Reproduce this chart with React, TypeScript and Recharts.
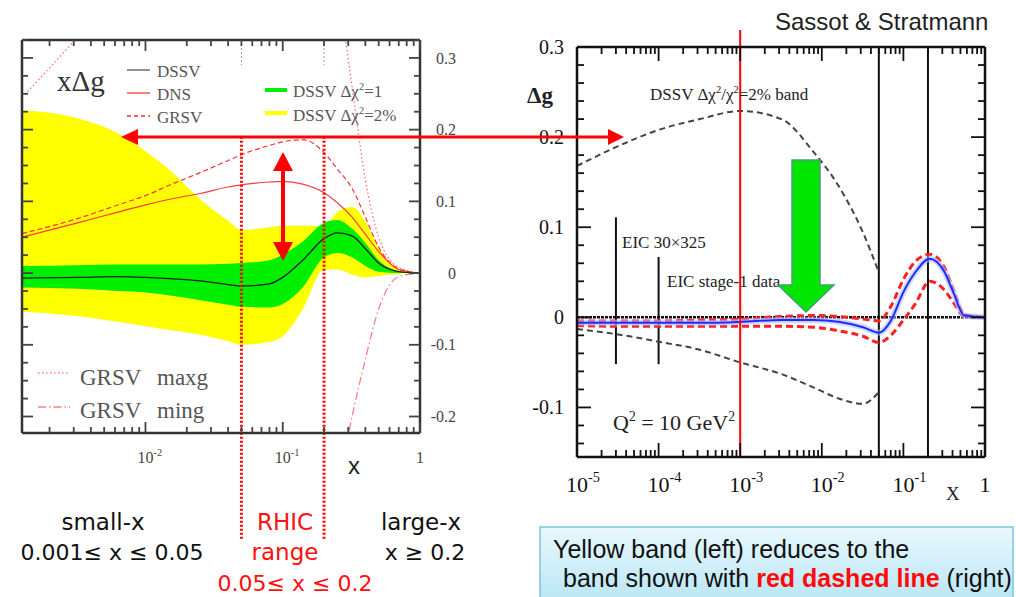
import React from 'react';
import { ComposedChart, Area, Line, XAxis, YAxis, ReferenceLine } from 'recharts';

const SERIF = '"Liberation Serif", "DejaVu Serif", serif';
const SANS = '"Liberation Sans", Arial, sans-serif';
const COMIC = '"Comic Sans MS", "DejaVu Sans", sans-serif';

// ---- left panel: x*Delta g (DSSV, DNS, GRSV) ----
const leftX = [0.00126, 0.0032, 0.0063, 0.01, 0.016, 0.025, 0.04, 0.05, 0.08, 0.1, 0.14, 0.2, 0.25, 0.32, 0.4, 0.5, 0.7, 1];
const yellowHi = [0.227, 0.216, 0.195, 0.17, 0.139, 0.103, 0.073, 0.06, 0.064, 0.066, 0.066, 0.065, 0.085, 0.092, 0.072, 0.035, 0.006, 0];
const yellowLo = [-0.054, -0.06, -0.068, -0.074, -0.08, -0.086, -0.095, -0.1, -0.096, -0.088, -0.05, 0.005, 0.005, -0.002, -0.006, -0.004, -0.001, 0];
const greenHi = [0.01, 0.011, 0.012, 0.012, 0.012, 0.012, 0.013, 0.014, 0.018, 0.026, 0.044, 0.07, 0.074, 0.062, 0.042, 0.018, 0.003, 0];
const greenLo = [-0.02, -0.022, -0.025, -0.027, -0.032, -0.038, -0.044, -0.047, -0.048, -0.043, -0.02, 0.022, 0.028, 0.022, 0.01, 0.002, 0, 0];
const dssv = [-0.007, -0.006, -0.005, -0.006, -0.008, -0.011, -0.016, -0.018, -0.015, -0.006, 0.018, 0.048, 0.056, 0.052, 0.034, 0.014, 0.002, 0];
const dns = [0.05, 0.07, 0.085, 0.095, 0.104, 0.111, 0.12, 0.123, 0.127, 0.128, 0.124, 0.112, 0.098, 0.078, 0.054, 0.03, 0.005, 0];
const grsv = [0.055, 0.076, 0.095, 0.108, 0.125, 0.14, 0.157, 0.165, 0.178, 0.183, 0.186, 0.168, 0.145, 0.118, 0.078, 0.036, 0.006, 0];
const grsvMaxg = [0.245, 0.33, 0.4, 0.44, 0.48, 0.5, 0.52, 0.53, 0.54, 0.54, 0.53, 0.5, 0.4, 0.26, 0.13, 0.05, 0.008, 0];
const grsvMing = [-0.4, -0.42, -0.44, -0.45, -0.46, -0.47, -0.48, -0.48, -0.48, -0.46, -0.43, -0.38, -0.3, -0.2, -0.12, -0.05, -0.005, 0];

// ---- right panel: Delta g, EIC projection ----
const rightX = [1e-5, 3.2e-5, 1e-4, 3.2e-4, 1e-3, 3.2e-3, 0.008, 0.016, 0.032, 0.05, 0.07, 0.1, 0.14, 0.21, 0.32, 0.4, 0.56, 1];
const bandHi = [0.168, 0.19, 0.208, 0.22, 0.229, 0.22, 0.183, 0.146, 0.094, 0.05, null, null, null, null, null, null, null, null];
const bandLo = [-0.013, -0.019, -0.027, -0.036, -0.05, -0.063, -0.078, -0.09, -0.096, -0.083, null, null, null, null, null, null, null, null];
const eicCentral = [-0.006, -0.006, -0.006, -0.006, -0.005, -0.003, -0.003, -0.005, -0.011, -0.017, -0.004, 0.028, 0.05, 0.065, 0.05, 0.03, 0.002, 0];
const eicHi = [-0.004, -0.004, -0.004, -0.003, -0.002, 0.001, 0.002, 0.001, -0.002, -0.004, 0.012, 0.042, 0.062, 0.07, 0.055, 0.033, 0.003, 0];
const eicLo = [-0.009, -0.01, -0.01, -0.01, -0.01, -0.01, -0.011, -0.015, -0.021, -0.028, -0.02, -0.003, 0.015, 0.04, 0.03, 0.018, 0.001, 0];

// tick labels
const leftDecades = [0.01, 0.1, 1];
const leftDecadeLabels = [['10', '-2'], ['10', '-1'], ['1', '']];
const rightDecades = [1e-5, 1e-4, 1e-3, 1e-2, 1e-1, 1];
const rightDecadeLabels = [['10', '-5'], ['10', '-4'], ['10', '-3'], ['10', '-2'], ['10', '-1'], ['1', '']];
const leftYLabels = [0.3, 0.2, 0.1, 0, -0.1, -0.2];
const rightYLabels = [0.3, 0.2, 0.1, 0, -0.1];

const LEFT_XDOM: [number, number] = [0.00126, 1];
const LEFT_YDOM: [number, number] = [-0.223, 0.325];
const RIGHT_XDOM: [number, number] = [1e-5, 1];
const RIGHT_YDOM: [number, number] = [-0.155, 0.3];

const logTicks = (lo: number, hi: number) => {
  const out: number[] = [];
  for (let e = Math.floor(Math.log10(lo)); e < Math.log10(hi); e++) {
    for (let m = 1; m < 10; m++) {
      const v = +(m * Math.pow(10, e)).toPrecision(6);
      if (v >= lo && v <= hi) out.push(v);
    }
  }
  out.push(hi);
  return out;
};
const stepTicks = (lo: number, hi: number, step: number) => {
  const out: number[] = [];
  for (let i = Math.ceil(lo / step - 1e-9); i * step <= hi + 1e-9; i++) out.push(Math.round(i * step * 1000) / 1000);
  return out;
};
const isDecade = (v: number) => Math.abs(Math.log10(v) - Math.round(Math.log10(v))) < 1e-6;
const isTenth = (v: number) => Math.abs(v * 10 - Math.round(v * 10)) < 1e-6;

const XTick = (p: any) => {
  const { x, y, payload, side, major, minor, color, sw, decades, labels, fs, off } = p;
  const v = payload.value;
  const big = isDecade(v);
  const dir = side === 'bottom' ? -1 : 1;
  const idx = decades ? decades.findIndex((d: number) => Math.abs(d - v) < d * 1e-6) : -1;
  let label = null;
  if (labels && idx >= 0) {
    const [base, exp] = labels[idx];
    const w = base.length * fs * 0.5;
    label = (
      <text x={x - w / 2} y={y + off} fontFamily={SERIF} fontSize={fs} fill={color}>
        <tspan>{base}</tspan>
        {exp ? <tspan dy={-fs * 0.45} fontSize={fs * 0.65}>{exp}</tspan> : null}
      </text>
    );
  }
  return (
    <g>
      <line x1={x} y1={y} x2={x} y2={y + dir * (big ? major : minor)} stroke={color} strokeWidth={sw} />
      {label}
    </g>
  );
};

const YTick = (p: any) => {
  const { x, y, payload, side, major, minor, color, sw, labels, fs, dx } = p;
  const v = payload.value;
  const big = isTenth(v);
  const dir = side === 'left' ? 1 : -1;
  const show = labels && labels.some((l: number) => Math.abs(l - v) < 1e-6);
  return (
    <g>
      <line x1={x} y1={y} x2={x + dir * (big ? major : minor)} y2={y} stroke={color} strokeWidth={sw} />
      {show ? (
        <text x={x + dx} y={y + fs * 0.35} textAnchor="end" fontFamily={SERIF} fontSize={fs} fill={color}>
          {String(Math.round(v * 10) / 10)}
        </text>
      ) : null}
    </g>
  );
};

// text with superscript pieces: parts alternate normal / superscript
const SupText = ({ x, y, fs, fill, family, parts, weight }: any) => {
  const d = fs * 0.4;
  let up = false;
  return (
    <text x={x} y={y} fontFamily={family} fontSize={fs} fill={fill} fontWeight={weight}>
      {parts.map((t: string, i: number) => {
        const sup = i % 2 === 1;
        const dy = sup ? -d : up ? d : 0;
        up = sup;
        return (
          <tspan key={i} dy={dy} fontSize={sup ? fs * 0.62 : fs}>{t}</tspan>
        );
      })}
    </text>
  );
};

export default function App() {
  const leftRows = leftX.map((x, i) => ({
    x,
    yellow: [yellowLo[i], yellowHi[i]],
    green: [greenLo[i], greenHi[i]],
    dssv: dssv[i],
    dns: dns[i],
    grsv: grsv[i],
    maxg: grsvMaxg[i],
    ming: grsvMing[i],
  }));
  const rightRows = rightX.map((x, i) => ({
    x,
    bandHi: bandHi[i],
    bandLo: bandLo[i],
    central: eicCentral[i],
    hi: eicHi[i],
    lo: eicLo[i],
  }));

  const lxTicks = logTicks(LEFT_XDOM[0], LEFT_XDOM[1]);
  const lyTicks = stepTicks(-0.2, 0.325, 0.025);
  const rxTicks = logTicks(RIGHT_XDOM[0], RIGHT_XDOM[1]);
  const ryTicks = stepTicks(-0.14, 0.3, 0.02);

  const lc = '#444';
  const rc = '#111';

  return (
    <div style={{ position: 'absolute', left: 0, top: 0, width: 1016, height: 597, background: '#fff', overflow: 'hidden' }}>
      <div style={{ position: 'absolute', left: 0, top: 0 }}>
        <ComposedChart width={470} height={560} data={leftRows} margin={{ top: 39, right: 49, bottom: 126, left: 21 }}>
          <XAxis dataKey="x" type="number" scale="log" domain={LEFT_XDOM} allowDataOverflow ticks={lxTicks} interval={0}
            height={1} tickSize={0} tickMargin={0} axisLine={{ stroke: '#333', strokeWidth: 2.5 }}
            tick={(p: any) => <XTick {...p} side="bottom" major={11} minor={6} color={lc} sw={1.8} decades={leftDecades} labels={leftDecadeLabels} fs={16} off={30} />} />
          <XAxis xAxisId="top" orientation="top" dataKey="x" type="number" scale="log" domain={LEFT_XDOM} allowDataOverflow ticks={lxTicks} interval={0}
            height={1} tickSize={0} tickMargin={0} axisLine={{ stroke: '#333', strokeWidth: 2.5 }}
            tick={(p: any) => <XTick {...p} side="top" major={11} minor={6} color={lc} sw={1.8} />} />
          <YAxis type="number" domain={LEFT_YDOM} allowDataOverflow ticks={lyTicks} interval={0} width={1} tickSize={0} tickMargin={0}
            axisLine={{ stroke: '#333', strokeWidth: 2.5 }}
            tick={(p: any) => <YTick {...p} side="left" major={11} minor={6} color={lc} sw={1.8} />} />
          <YAxis yAxisId="right" orientation="right" type="number" domain={LEFT_YDOM} allowDataOverflow ticks={lyTicks} interval={0} width={1} tickSize={0} tickMargin={0}
            axisLine={{ stroke: '#333', strokeWidth: 2.5 }}
            tick={(p: any) => <YTick {...p} side="right" major={11} minor={6} color={lc} sw={1.8} labels={leftYLabels} fs={16} dx={36} />} />
          <Area dataKey="yellow" type="monotone" fill="#ffff00" fillOpacity={1} stroke="none" isAnimationActive={false} />
          <Area dataKey="green" type="monotone" fill="#00ee00" fillOpacity={1} stroke="none" isAnimationActive={false} />
          <Line dataKey="maxg" type="monotone" stroke="#ff7070" strokeWidth={1.3} strokeDasharray="1.5 2.5" dot={false} isAnimationActive={false} />
          <Line dataKey="ming" type="monotone" stroke="#ff8080" strokeWidth={1.3} strokeDasharray="8 3 1.5 3" dot={false} isAnimationActive={false} />
          <Line dataKey="grsv" type="monotone" stroke="#ff3030" strokeWidth={1.2} strokeDasharray="5 3" dot={false} isAnimationActive={false} />
          <Line dataKey="dns" type="monotone" stroke="#ff3a3a" strokeWidth={1.2} dot={false} isAnimationActive={false} />
          <Line dataKey="dssv" type="monotone" stroke="#222" strokeWidth={1.3} dot={false} isAnimationActive={false} />
          <ReferenceLine segment={[{ x: 0.05, y: 0.325 }, { x: 0.05, y: 0.29 }]} stroke="#999" strokeWidth={1} strokeDasharray="2 2" />
          <ReferenceLine segment={[{ x: 0.2, y: 0.325 }, { x: 0.2, y: 0.29 }]} stroke="#999" strokeWidth={1} strokeDasharray="2 2" />
          <ReferenceLine segment={[{ x: 0.05, y: 0.19 }, { x: 0.05, y: -0.372 }]} stroke="#ff0000" strokeWidth={3} strokeDasharray="2 2" ifOverflow="visible" />
          <ReferenceLine segment={[{ x: 0.2, y: 0.19 }, { x: 0.2, y: -0.372 }]} stroke="#ff0000" strokeWidth={3} strokeDasharray="2 2" ifOverflow="visible" />
        </ComposedChart>
      </div>

      <div style={{ position: 'absolute', left: 520, top: 0 }}>
        <ComposedChart width={496} height={520} data={rightRows} margin={{ top: 46, right: 30, bottom: 62, left: 56 }}>
          <XAxis dataKey="x" type="number" scale="log" domain={RIGHT_XDOM} allowDataOverflow ticks={rxTicks} interval={0}
            height={1} tickSize={0} tickMargin={0} axisLine={{ stroke: rc, strokeWidth: 2.5 }}
            tick={(p: any) => <XTick {...p} side="bottom" major={14} minor={7} color={rc} sw={1.8} decades={rightDecades} labels={rightDecadeLabels} fs={22} off={35} />} />
          <XAxis xAxisId="top" orientation="top" dataKey="x" type="number" scale="log" domain={RIGHT_XDOM} allowDataOverflow ticks={rxTicks} interval={0}
            height={1} tickSize={0} tickMargin={0} axisLine={{ stroke: rc, strokeWidth: 2.5 }}
            tick={(p: any) => <XTick {...p} side="top" major={14} minor={7} color={rc} sw={1.8} />} />
          <YAxis type="number" domain={RIGHT_YDOM} allowDataOverflow ticks={ryTicks} interval={0} width={1} tickSize={0} tickMargin={0}
            axisLine={{ stroke: rc, strokeWidth: 2.5 }}
            tick={(p: any) => <YTick {...p} side="left" major={14} minor={7} color={rc} sw={1.8} labels={rightYLabels} fs={20} dx={-13} />} />
          <YAxis yAxisId="right" orientation="right" type="number" domain={RIGHT_YDOM} allowDataOverflow ticks={ryTicks} interval={0} width={1} tickSize={0} tickMargin={0}
            axisLine={{ stroke: rc, strokeWidth: 2.5 }}
            tick={(p: any) => <YTick {...p} side="right" major={14} minor={7} color={rc} sw={1.8} />} />
          <ReferenceLine y={0} stroke="#111" strokeWidth={2.5} strokeDasharray="3 1" />
          <ReferenceLine x={0.05} stroke="#111" strokeWidth={2} />
          <ReferenceLine x={0.2} stroke="#111" strokeWidth={2} />
          <ReferenceLine segment={[{ x: 3e-5, y: 0.111 }, { x: 3e-5, y: -0.052 }]} stroke="#111" strokeWidth={2} />
          <ReferenceLine segment={[{ x: 1e-4, y: 0.067 }, { x: 1e-4, y: -0.052 }]} stroke="#111" strokeWidth={2} />
          <Line dataKey="bandHi" type="monotone" stroke="#444" strokeWidth={2} strokeDasharray="6 4" dot={false} isAnimationActive={false} />
          <Line dataKey="bandLo" type="monotone" stroke="#444" strokeWidth={2} strokeDasharray="6 4" dot={false} isAnimationActive={false} />
          <Line dataKey="hi" type="monotone" stroke="#ff2020" strokeWidth={3} strokeDasharray="7 4" dot={false} isAnimationActive={false} />
          <Line dataKey="lo" type="monotone" stroke="#ff2020" strokeWidth={3} strokeDasharray="7 4" dot={false} isAnimationActive={false} />
          <Line dataKey="central" type="monotone" stroke="#b0b8ff" strokeWidth={6} strokeOpacity={0.6} dot={false} isAnimationActive={false} />
          <Line dataKey="central" type="monotone" stroke="#1a2cff" strokeWidth={2} dot={false} isAnimationActive={false} />
          <ReferenceLine segment={[{ x: 1e-3, y: 0.319 }, { x: 1e-3, y: -0.155 }]} stroke="#ff0000" strokeWidth={2} ifOverflow="visible" />
        </ComposedChart>
      </div>

      <svg width={1016} height={597} style={{ position: 'absolute', left: 0, top: 0, pointerEvents: 'none' }}>
        <defs>
          <linearGradient id="boxfill" x1="0" y1="0" x2="0" y2="1">
            <stop offset="0" stopColor="#e8f8fd" />
            <stop offset="1" stopColor="#b6e4f4" />
          </linearGradient>
        </defs>

        {/* left panel labels and legend */}
        <text x={57} y={91} fontFamily={SERIF} fontSize={29} fill="#333">xΔg</text>
        <line x1={127} y1={70} x2={150} y2={70} stroke="#555" strokeWidth={1.3} />
        <text x={157} y={77} fontFamily={SERIF} fontSize={17} fill="#555">DSSV</text>
        <line x1={127} y1={93} x2={150} y2={93} stroke="#ff3a3a" strokeWidth={1.3} />
        <text x={157} y={100} fontFamily={SERIF} fontSize={17} fill="#555">DNS</text>
        <line x1={127} y1={116} x2={150} y2={116} stroke="#ff3030" strokeWidth={1.3} strokeDasharray="4 3" />
        <text x={157} y={123} fontFamily={SERIF} fontSize={17} fill="#555">GRSV</text>
        <line x1={265} y1={90} x2={287} y2={90} stroke="#00ee00" strokeWidth={4} />
        <SupText x={293} y={97} fs={17} fill="#555" family={SERIF} parts={['DSSV Δχ', '2', '=1']} />
        <line x1={265} y1={113} x2={287} y2={113} stroke="#ffff00" strokeWidth={4} />
        <SupText x={293} y={121} fs={17} fill="#555" family={SERIF} parts={['DSSV Δχ', '2', '=2%']} />
        <line x1={38} y1={373} x2={70} y2={373} stroke="#ff8080" strokeWidth={1.3} strokeDasharray="1.5 2.5" />
        <text x={80} y={385} fontFamily={SERIF} fontSize={23} fill="#555">GRSV</text>
        <text x={157} y={385} fontFamily={SERIF} fontSize={23} fill="#555">maxg</text>
        <line x1={38} y1={407} x2={70} y2={407} stroke="#ff8080" strokeWidth={1.3} strokeDasharray="8 3 1.5 3" />
        <text x={80} y={418} fontFamily={SERIF} fontSize={23} fill="#555">GRSV</text>
        <text x={157} y={418} fontFamily={SERIF} fontSize={23} fill="#555">ming</text>
        <text x={348} y={474} fontFamily={SANS} fontSize={24} fill="#222">x</text>

        {/* right panel labels */}
        <text x={775} y={30} fontFamily={SANS} fontSize={24} fill="#222">Sassot &amp; Stratmann</text>
        <text x={527} y={103} fontFamily={SERIF} fontSize={23} fontWeight="bold" fill="#222">Δg</text>
        <SupText x={650} y={100} fs={17} fill="#222" family={SERIF} parts={['DSSV Δχ', '2', '/χ', '2', '=2% band']} />
        <text x={622} y={248} fontFamily={SERIF} fontSize={17} fill="#222">EIC 30×325</text>
        <text x={667} y={287} fontFamily={SERIF} fontSize={17} fill="#222">EIC stage-1 data</text>
        <SupText x={613} y={430} fs={22} fill="#222" family={SERIF} parts={['Q', '2', ' = 10 GeV', '2']} />
        <text x={946} y={500} fontFamily={SERIF} fontSize={19} fill="#222">X</text>

        {/* arrows */}
        <polygon points="792,160 820,160 820,285 834,285 806,312 778,285 792,285" fill="#00e600" stroke="#4a9d7a" strokeWidth={1.5} />
        <line x1={135} y1={137} x2={611} y2={137} stroke="#ff0000" strokeWidth={3} />
        <polygon points="121,137 138,129 138,145" fill="#ff0000" />
        <polygon points="624,137 608,129 608,145" fill="#ff0000" />
        <line x1={283} y1={166} x2={283} y2={246} stroke="#ff0000" strokeWidth={4} />
        <polygon points="283,152 273,171 293,171" fill="#ff0000" />
        <polygon points="283,261 273,242 293,242" fill="#ff0000" />

        {/* x-range annotations */}
        <text x={103} y={530} textAnchor="middle" fontFamily={COMIC} fontSize={23} fill="#111">small-x</text>
        <text x={112} y={560} textAnchor="middle" fontFamily={COMIC} fontSize={22} fill="#111">0.001≤ x ≤ 0.05</text>
        <text x={285} y={530} textAnchor="middle" fontFamily={COMIC} fontSize={23} fill="#ff1010">RHIC</text>
        <text x={285} y={560} textAnchor="middle" fontFamily={COMIC} fontSize={23} fill="#ff1010">range</text>
        <text x={295} y={591} textAnchor="middle" fontFamily={COMIC} fontSize={22} fill="#ff1010">0.05≤ x ≤ 0.2</text>
        <text x={421} y={530} textAnchor="middle" fontFamily={COMIC} fontSize={23} fill="#111">large-x</text>
        <text x={425} y={560} textAnchor="middle" fontFamily={COMIC} fontSize={22} fill="#111">x ≥ 0.2</text>

        {/* note box */}
        <rect x={540} y={527} width={473} height={80} fill="url(#boxfill)" stroke="#7cc3dc" strokeWidth={1.5} />
        <text x={553} y={558} fontFamily={SANS} fontSize={25} fill="#111">Yellow band (left) reduces to the</text>
        <text x={563} y={587} fontFamily={SANS} fontSize={25} fill="#111">
          band shown with <tspan fill="#ff0a0a" fontWeight="bold">red dashed line</tspan> (right)
        </text>
      </svg>
    </div>
  );
}
